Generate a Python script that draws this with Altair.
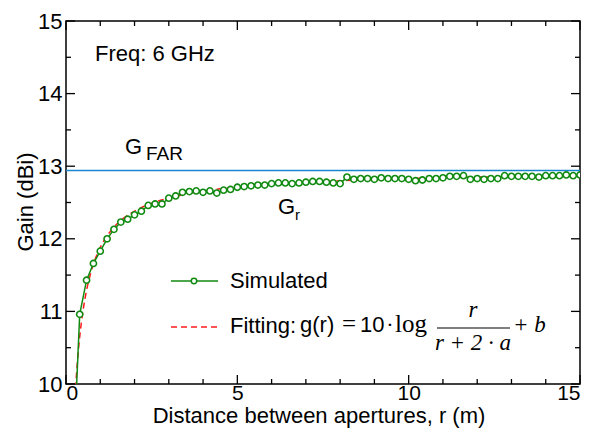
import altair as alt
import pandas as pd

# ---------------- data ----------------
r_sim = [0.2, 0.4, 0.6, 0.8, 1.0, 1.2, 1.4, 1.6, 1.8, 2.0,
         2.2, 2.4, 2.6, 2.8, 3.0, 3.2, 3.4, 3.6, 3.8, 4.0,
         4.2, 4.4, 4.6, 4.8, 5.0, 5.2, 5.4, 5.6, 5.8, 6.0,
         6.2, 6.4, 6.6, 6.8, 7.0, 7.2, 7.4, 7.6, 7.8, 8.0,
         8.2, 8.4, 8.6, 8.8, 9.0, 9.2, 9.4, 9.6, 9.8, 10.0,
         10.2, 10.4, 10.6, 10.8, 11.0, 11.2, 11.4, 11.6, 11.8, 12.0,
         12.2, 12.4, 12.6, 12.8, 13.0, 13.2, 13.4, 13.6, 13.8, 14.0,
         14.2, 14.4, 14.6, 14.8, 15.0]
g_sim = [8.80, 10.96, 11.43, 11.66, 11.83, 12.00, 12.13, 12.23, 12.27, 12.33,
         12.38, 12.46, 12.48, 12.48, 12.56, 12.59, 12.64, 12.65, 12.66, 12.64,
         12.66, 12.63, 12.67, 12.68, 12.71, 12.72, 12.73, 12.74, 12.74, 12.76,
         12.77, 12.77, 12.76, 12.77, 12.78, 12.79, 12.79, 12.78, 12.77, 12.76,
         12.85, 12.82, 12.83, 12.83, 12.82, 12.84, 12.83, 12.83, 12.83, 12.82,
         12.80, 12.81, 12.83, 12.83, 12.84, 12.86, 12.86, 12.87, 12.82, 12.83,
         12.82, 12.83, 12.83, 12.87, 12.86, 12.86, 12.86, 12.86, 12.85, 12.87,
         12.87, 12.87, 12.88, 12.87, 12.88]

r_fit = [0.28, 0.29, 0.30, 0.32, 0.35, 0.40, 0.45, 0.50, 0.60, 0.70, 0.80,
         1.0, 1.2, 1.5, 2.0, 2.5, 3.0, 4.0, 5.0, 6.0, 8.0, 10.0, 12.0, 15.0]
g_fit = [9.94, 10.02, 10.09, 10.22, 10.40, 10.65, 10.85, 11.02, 11.29, 11.49, 11.65,
         11.88, 12.04, 12.21, 12.38, 12.49, 12.56, 12.66, 12.71, 12.75, 12.80, 12.83, 12.85, 12.87]

g_far = [12.94]

x_major = [0, 5, 10, 15]
x_minor = [1, 2, 3, 4, 6, 7, 8, 9, 11, 12, 13, 14]
y_major = [10, 11, 12, 13, 14, 15]
y_minor = [10.5, 11.5, 12.5, 13.5, 14.5]

# ---------------- style ----------------
W, H = 514, 363
SANS = "Liberation Sans"
SERIF = "Liberation Serif"
GREEN = "#108a10"
RED = "#ff1a1a"
BLUE = "#1a86cf"
FS = 22

xs = alt.Scale(domain=[0, 15], nice=False, zero=False)
ys = alt.Scale(domain=[10, 15], nice=False, zero=False)
x_axis = alt.Axis(values=x_major, title=None, labelPadding=-2, labelFontSize=21)
y_axis = alt.Axis(values=y_major, title=None, labelPadding=4)

sim_df = pd.DataFrame({"r": r_sim, "g": g_sim})
fit_df = pd.DataFrame({"r": r_fit, "g": g_fit})


def X(f):
    return alt.X(f, type="quantitative", scale=xs, axis=x_axis)


def Y(f):
    return alt.Y(f, type="quantitative", scale=ys, axis=y_axis)


def txt(s, x, y, size=FS, font=SANS, style="normal", align="left", angle=0):
    return alt.Chart(pd.DataFrame({"t": [s]})).mark_text(
        align=align, baseline="alphabetic", fontSize=size, font=font,
        fontStyle=style, angle=angle, color="black"
    ).encode(x=alt.value(x), y=alt.value(y), text="t:N")


far_line = alt.Chart(pd.DataFrame({"g": g_far})).mark_rule(
    color=BLUE, strokeWidth=1.6).encode(y=Y("g"))

fit_line = alt.Chart(fit_df).mark_line(
    color=RED, strokeWidth=1.5, strokeDash=[6, 4], clip=True, interpolate="monotone"
).encode(x=X("r"), y=Y("g"))

sim_line = alt.Chart(sim_df).mark_line(
    color=GREEN, strokeWidth=1.5, clip=True).encode(x=X("r"), y=Y("g"))

sim_pts = alt.Chart(sim_df).mark_point(
    shape="circle", size=38, filled=True, fill="white", stroke=GREEN,
    strokeWidth=1.6, opacity=1, clip=True
).encode(x=X("r"), y=Y("g"))


# inward ticks on all four sides
def xticks(vals, length):
    d = pd.DataFrame({"v": vals})
    bot = alt.Chart(d).mark_rule(color="black", strokeWidth=1.3).encode(
        x=X("v"), y=alt.value(H), y2=alt.value(H - length))
    top = alt.Chart(d).mark_rule(color="black", strokeWidth=1.3).encode(
        x=X("v"), y=alt.value(0), y2=alt.value(length))
    return [bot, top]


def yticks(vals, length):
    d = pd.DataFrame({"v": vals})
    left = alt.Chart(d).mark_rule(color="black", strokeWidth=1.3).encode(
        y=Y("v"), x=alt.value(0), x2=alt.value(length))
    right = alt.Chart(d).mark_rule(color="black", strokeWidth=1.3).encode(
        y=Y("v"), x=alt.value(W), x2=alt.value(W - length))
    return [left, right]


ticks = xticks(x_major, 9) + xticks(x_minor, 5) + yticks(y_major, 9) + yticks(y_minor, 5)

# legend
leg_sim_line = alt.Chart(pd.DataFrame({"a": [0]})).mark_rule(
    color=GREEN, strokeWidth=1.5).encode(
    x=alt.value(105), x2=alt.value(152), y=alt.value(260))
leg_sim_pt = alt.Chart(pd.DataFrame({"a": [0]})).mark_point(
    shape="circle", size=30, filled=True, fill="white", stroke=GREEN,
    strokeWidth=1.5, opacity=1).encode(x=alt.value(128), y=alt.value(260))
leg_fit_line = alt.Chart(pd.DataFrame({"a": [0]})).mark_rule(
    color=RED, strokeWidth=1.5, strokeDash=[6, 4]).encode(
    x=alt.value(105), x2=alt.value(152), y=alt.value(306))
frac_bar = alt.Chart(pd.DataFrame({"a": [0]})).mark_rule(
    color="black", strokeWidth=1.2).encode(
    x=alt.value(371), x2=alt.value(444), y=alt.value(307))

texts = [
    txt("Simulated", 164, 267),
    txt("Fitting:", 164, 312),
    txt("g(r)", 234, 311),
    txt("=", 283, 311, size=25, font=SERIF, align="center"),
    txt("10", 294, 311),
    txt("·", 324, 311, font=SERIF, align="center"),
    txt("log", 329, 311, size=25, font=SERIF),
    txt("r", 407, 296, size=23, font=SERIF, style="italic", align="center"),
    txt("r + 2 · a", 407, 329, size=23, font=SERIF, style="italic", align="center"),
    txt("+ b", 447, 311, size=23, font=SERIF, style="italic"),
    txt("Freq: 6 GHz", 29, 40),
    txt("G", 59, 133),
    txt("FAR", 80, 139, size=19),
    txt("G", 212, 193),
    txt("r", 229, 199, size=15),
    txt("Distance between apertures, r (m)", 253, 402, align="center"),
    txt("Gain (dBi)", -33, 181, align="center", angle=270),
]

chart = alt.layer(
    far_line, fit_line, sim_line, sim_pts, *ticks,
    leg_sim_line, leg_sim_pt, leg_fit_line, frac_bar, *texts
).properties(
    width=W, height=H,
    autosize=alt.AutoSizeParams(type="none"),
    padding={"left": 66, "top": 21, "right": 14, "bottom": 53},
    background="white",
).configure_view(
    stroke="black", strokeWidth=1.5
).configure_axis(
    domain=False, ticks=False, grid=False,
    labelFont=SANS, labelFontSize=FS, labelColor="black",
)

chart.save("out.html", embed_options={"renderer": "svg", "actions": False})
